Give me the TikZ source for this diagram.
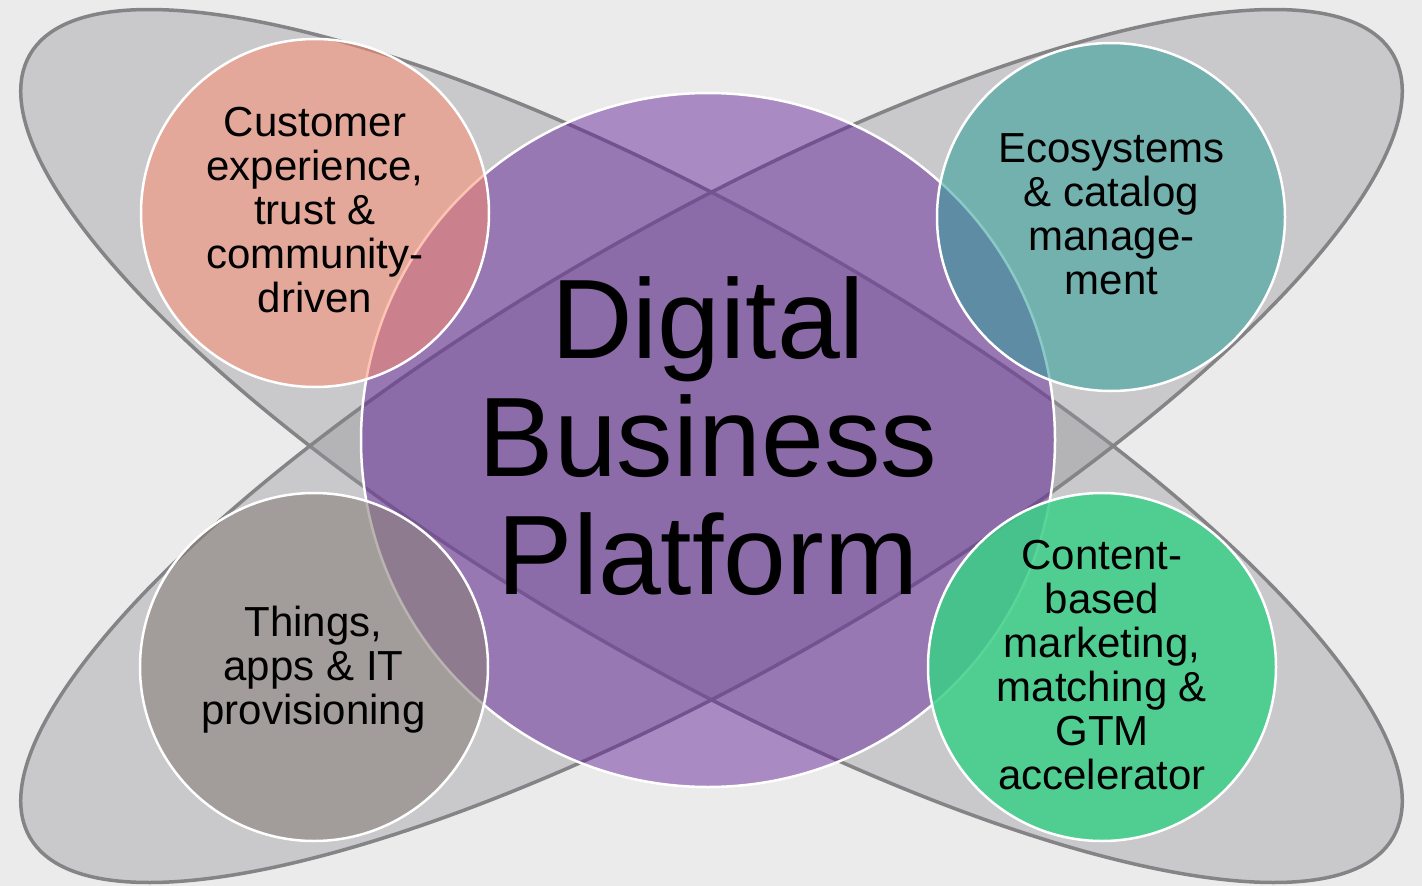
\documentclass[tikz,border=0pt]{standalone}
\usepackage{fontspec}
\setmainfont{Liberation Sans}
\definecolor{bgc}{RGB}{235,235,235}
\definecolor{ellfill}{RGB}{146,148,152}
\definecolor{ellline}{RGB}{132,132,135}
\definecolor{purplec}{RGB}{97,29,152}
\definecolor{pinkc}{RGB}{253,136,104}
\definecolor{tealc}{RGB}{45,158,153}
\definecolor{grayc}{RGB}{135,126,120}
\definecolor{greenc}{RGB}{59,207,135}
\tikzset{
  orbit/.style={fill=ellfill, fill opacity=0.38, draw=ellline, draw opacity=1, line width=3.5pt},
  bubble/.style={circle, minimum size=348pt, inner sep=0pt, draw=white, line width=2.5pt},
  lbl/.style={align=center, inner sep=0pt, text=black, font={\fontsize{42}{44}\selectfont}},
  biglbl/.style={align=center, inner sep=0pt, text=black, font={\fontsize{113}{118}\selectfont}}
}
\begin{document}
\begin{tikzpicture}[x=1pt,y=1pt]
\fill[bgc] (0,0) rectangle (1422,-886);
\useasboundingbox (0,0) rectangle (1422,-886);
% two crossed ellipses
\path[orbit, rotate around={-29.85:(711.5,-446)}] (711.5,-446) ellipse [x radius=786, y radius=223];
\path[orbit, rotate around={29.85:(711.5,-446)}] (711.5,-446) ellipse [x radius=786, y radius=223];
% central circle
\node[circle, minimum size=694pt, inner sep=0pt, fill=purplec, fill opacity=0.47, draw=white, draw opacity=1, line width=2.5pt] (core) at (708,-440) {};
% four bubbles
\node[bubble, fill=pinkc, fill opacity=0.5, draw opacity=1] (cx) at (315,-213) {};
\node[bubble, fill=tealc, fill opacity=0.55, draw opacity=1] (eco) at (1111,-217) {};
\node[bubble, fill=grayc, fill opacity=0.58, draw opacity=1] (things) at (314,-667) {};
\node[bubble, fill=greenc, fill opacity=0.85, draw opacity=1] (content) at (1102,-667) {};
% labels
\node[lbl] (cxt) at (315,-209.7) {Customer\\experience,\\trust \&\\community-\\driven};
\node[lbl] (ecot) at (1111.5,-214) {Ecosystems\\\& catalog\\manage-\\ment};
\node[lbl] (thingst) at (313.5,-669.6) {Things,\\apps \& IT\\provisioning};
\node[lbl] (contentt) at (1102,-665) {Content-\\based\\marketing,\\matching \&\\GTM\\accelerator};
\node[biglbl] (coret) at (708,-435.7) {Digital\\Business\\Platform};
\end{tikzpicture}
\end{document}
